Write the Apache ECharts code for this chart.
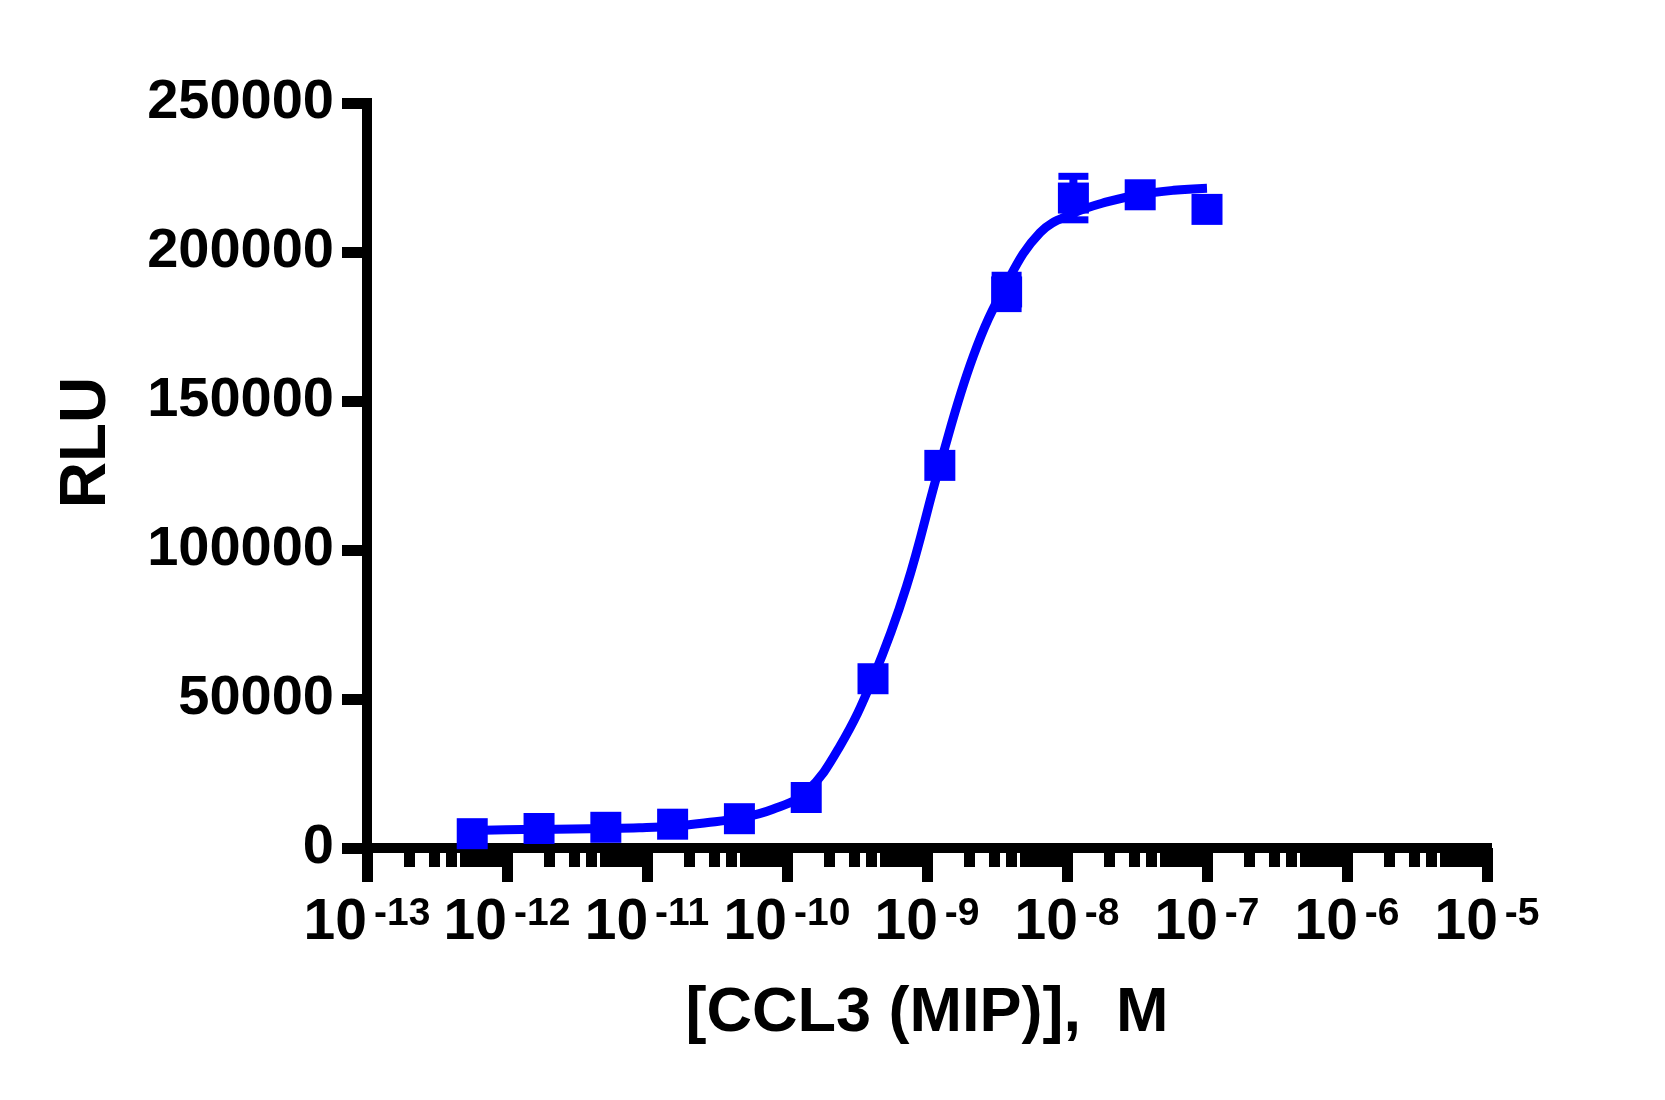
<!DOCTYPE html>
<html>
<head>
<meta charset="utf-8">
<script src="https://cdn.jsdelivr.net/npm/echarts@6/dist/echarts.min.js"></script>
<style>
html,body{margin:0;padding:0;background:#ffffff;}
#chart{width:1665px;height:1100px;}
</style>
</head>
<body>
<div id="chart"></div>
<script>
// ---- data ----
const concentrations = [5.645e-13, 1.694e-12, 5.081e-12, 1.524e-11, 4.572e-11, 1.372e-10,
                        4.115e-10, 1.235e-9, 3.704e-9, 1.111e-8, 3.333e-8, 1.0e-7];
const rluMean = [4800, 6540, 6950, 7990, 9830, 16950, 56800, 128400, 186600, 218100, 219200, 214300];
const rluSem  = [0, 0, 0, 0, 0, 0, 0, 0, 5600, 7300, 0, 0];

// fitted curve
const fitConc = [5.645e-13, 9.78e-13, 1.694e-12, 2.93e-12, 5.081e-12, 8.80e-12, 1.524e-11, 2.64e-11,
                 4.572e-11, 7.92e-11, 1.372e-10, 2.376e-10, 4.115e-10, 7.13e-10, 1.235e-9, 2.14e-9,
                 3.704e-9, 6.42e-9, 1.111e-8, 1.925e-8, 3.333e-8, 5.77e-8, 1.0e-7];
const fitRlu  = [5900, 6100, 6250, 6400, 6550, 6800, 7300, 8450,
                 10000, 13000, 18800, 34000, 57000, 87700, 128400, 165000,
                 189600, 206500, 213000, 216800, 219300, 220700, 221400];

// axes
const xMajorTicks = [1e-13, 1e-12, 1e-11, 1e-10, 1e-9, 1e-8, 1e-7, 1e-6, 1e-5];
const xMinorMultipliers = [2, 3, 4, 5, 6, 7, 8, 9];
const yTicks = [0, 50000, 100000, 150000, 200000, 250000];
const xTitle = '[CCL3 (MIP)],  M';
const yTitle = 'RLU';

// ---- build ----
const BLUE = '#0000FF';
const FONT = "'Liberation Sans', Arial, Helvetica, sans-serif";

const minorTickValues = [];
for (let i = 0; i < xMajorTicks.length - 1; i++) {
  xMinorMultipliers.forEach(m => minorTickValues.push(m * xMajorTicks[i]));
}

const pointData = concentrations.map((c, i) => [c, rluMean[i]]);
const fitData = fitConc.map((c, i) => [c, fitRlu[i]]);
const errData = [];
concentrations.forEach((c, i) => {
  if (rluSem[i] > 0) errData.push([c, rluMean[i] - rluSem[i], rluMean[i] + rluSem[i]]);
});

const chart = echarts.init(document.getElementById('chart'), null, {renderer: 'canvas'});

const option = {
  animation: false,
  backgroundColor: '#ffffff',
  grid: {left: 367, right: 178, top: 103, bottom: 252, containLabel: false},
  xAxis: [
    {
      type: 'log',
      logBase: 10,
      min: xMajorTicks[0],
      max: xMajorTicks[xMajorTicks.length - 1],
      position: 'bottom',
      axisLine: {show: true, lineStyle: {color: '#000', width: 10, cap: 'square'}},
      axisTick: {show: true, inside: false, length: 34, customValues: xMajorTicks,
                 lineStyle: {color: '#000', width: 11}},
      axisLabel: {
        show: true,
        margin: 47,
        customValues: xMajorTicks,
        formatter: v => '{b|10}{s|' + Math.round(Math.log10(v)) + '}',
        rich: {
          b: {fontFamily: FONT, fontWeight: 'bold', fontSize: 57, lineHeight: 57, color: '#000'},
          s: {fontFamily: FONT, fontWeight: 'bold', fontSize: 39, lineHeight: 39, color: '#000',
              verticalAlign: 'top', padding: [0, 0, 0, 7]}
        }
      },
      splitLine: {show: false},
      minorTick: {show: false},
      name: xTitle,
      nameLocation: 'middle',
      nameGap: 134,
      nameTextStyle: {fontFamily: FONT, fontWeight: 'bold', fontSize: 63, color: '#000'}
    },
    {
      type: 'log',
      logBase: 10,
      min: xMajorTicks[0],
      max: xMajorTicks[xMajorTicks.length - 1],
      position: 'bottom',
      axisLine: {show: false},
      axisTick: {show: true, inside: false, length: 19, customValues: minorTickValues,
                 lineStyle: {color: '#000', width: 11}},
      axisLabel: {show: false},
      splitLine: {show: false}
    }
  ],
  yAxis: {
    type: 'value',
    min: yTicks[0],
    max: yTicks[yTicks.length - 1],
    interval: yTicks[1] - yTicks[0],
    axisLine: {show: true, lineStyle: {color: '#000', width: 10, cap: 'square'}},
    axisTick: {show: true, length: 25, lineStyle: {color: '#000', width: 11}},
    axisLabel: {
      margin: 33,
      fontFamily: FONT, fontWeight: 'bold', fontSize: 56, color: '#000',
      formatter: v => String(v)
    },
    splitLine: {show: false},
    name: yTitle,
    nameLocation: 'middle',
    nameRotate: 90,
    nameGap: 248,
    nameTextStyle: {fontFamily: FONT, fontWeight: 'bold', fontSize: 64, color: '#000',
                    padding: [0, 0, 0, 66]}
  },
  series: [
    {
      type: 'line',
      xAxisIndex: 0,
      data: fitData,
      smooth: 0.4,
      showSymbol: false,
      symbol: 'none',
      lineStyle: {color: BLUE, width: 9, opacity: 1},
      z: 2
    },
    {
      type: 'custom',
      xAxisIndex: 0,
      data: errData,
      encode: {x: 0, y: [1, 2]},
      renderItem: (params, api) => {
        const x = api.value(0);
        const lo = api.coord([x, api.value(1)]);
        const hi = api.coord([x, api.value(2)]);
        const capW = 30, capH = 7;
        return {
          type: 'group',
          children: [
            {type: 'line', shape: {x1: lo[0], y1: lo[1], x2: hi[0], y2: hi[1]},
             style: {stroke: BLUE, lineWidth: 8, opacity: 1}},
            {type: 'rect', shape: {x: hi[0] - capW / 2, y: hi[1] - capH / 2, width: capW, height: capH},
             style: {fill: BLUE, opacity: 1}},
            {type: 'rect', shape: {x: lo[0] - capW / 2, y: lo[1] - capH / 2, width: capW, height: capH},
             style: {fill: BLUE, opacity: 1}}
          ]
        };
      },
      z: 3
    },
    {
      type: 'scatter',
      xAxisIndex: 0,
      data: pointData,
      symbol: 'rect',
      symbolSize: 31,
      itemStyle: {color: BLUE, opacity: 1},
      z: 4
    }
  ]
};
chart.setOption(option);
</script>
</body>
</html>
